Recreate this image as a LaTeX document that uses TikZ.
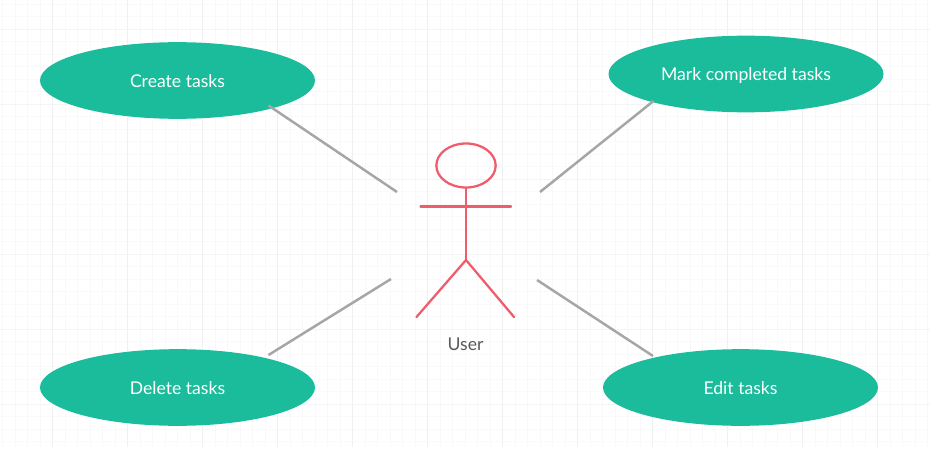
\documentclass[tikz,border=0pt]{standalone}
\usepackage{fontspec}
\setmainfont{Lato}
\usetikzlibrary{shapes.geometric,calc}
\definecolor{teal}{HTML}{1ABC9C}
\definecolor{rosy}{HTML}{EF5D6D}
\definecolor{wire}{HTML}{A6A6A6}
\definecolor{gridminor}{HTML}{F8F8FA}
\definecolor{gridmajor}{HTML}{F0F0F3}
\definecolor{gridminorh}{HTML}{FAFAFB}
\definecolor{gridmajorh}{HTML}{F4F4F6}
\tikzset{
  x=0.75pt,y=-0.75pt,
  usecase/.style={ellipse,fill=teal,inner sep=0pt,minimum width=206.25pt,minimum height=57.5pt,text=white,font=\fontsize{13.2}{15}\selectfont,text height=11.3pt,text depth=1pt},
  link/.style={draw=wire,line width=1.85pt},
  stick/.style={draw=rosy,line width=1.7pt,line cap=round},
}
\begin{document}
\begin{tikzpicture}
\useasboundingbox (0,0) rectangle (930,449);
\fill[white] (0,0) rectangle (930,449);
\foreach \i in {0,...,74} \draw[gridminor,line width=0.75pt] ({2.5+12.5*\i},0) -- ({2.5+12.5*\i},447);
\foreach \i in {0,...,35} \draw[gridminorh,line width=0.75pt] (0,{4.3+12.5*\i}) -- (930,{4.3+12.5*\i});
\foreach \i in {0,...,11} \draw[gridmajor,line width=0.75pt] ({52.5+75*\i},0) -- ({52.5+75*\i},447);
\foreach \i in {0,...,5} \draw[gridmajorh,line width=0.75pt] (0,{29.3+75*\i}) -- (930,{29.3+75*\i});
\node[usecase] (create) at (177.5,80.5) {Create tasks};
\node[usecase] (mark) at (746,74) {Mark completed tasks};
\node[usecase] (delete) at (177.5,387.5) {Delete tasks};
\node[usecase] (edit) at (740.5,387.5) {Edit tasks};
\coordinate (a1) at (397,192);
\coordinate (a2) at (540,192);
\coordinate (a3) at (391,279);
\coordinate (a4) at (537,280);
\draw[link] ($(create.center)+(91,25)$) -- (a1);
\draw[link] ($(mark.center)+(-92.5,27)$) -- (a2);
\draw[link] ($(delete.center)+(91,-32.5)$) -- (a3);
\draw[link] ($(edit.center)+(-87.5,-31.5)$) -- (a4);
\node[ellipse,draw=rosy,line width=1.7pt,minimum width=44.5pt,minimum height=33pt,inner sep=0pt] (head) at (466,165.5) {};
\coordinate (hip) at (466,260);
\coordinate (armL) at (420.5,206.5);
\coordinate (armR) at (511,206.5);
\coordinate (legL) at (416.5,317);
\coordinate (legR) at (514,317);
\draw[stick] (head.south) -- (hip);
\draw[stick] (armL) -- (armR);
\draw[stick] (legL) -- (hip) -- (legR);
\node[text=black!65,font=\fontsize{13.2}{15}\selectfont,text height=11.3pt,text depth=1pt,inner sep=0pt] (user) at (465.5,344) {User};
\end{tikzpicture}
\end{document}
